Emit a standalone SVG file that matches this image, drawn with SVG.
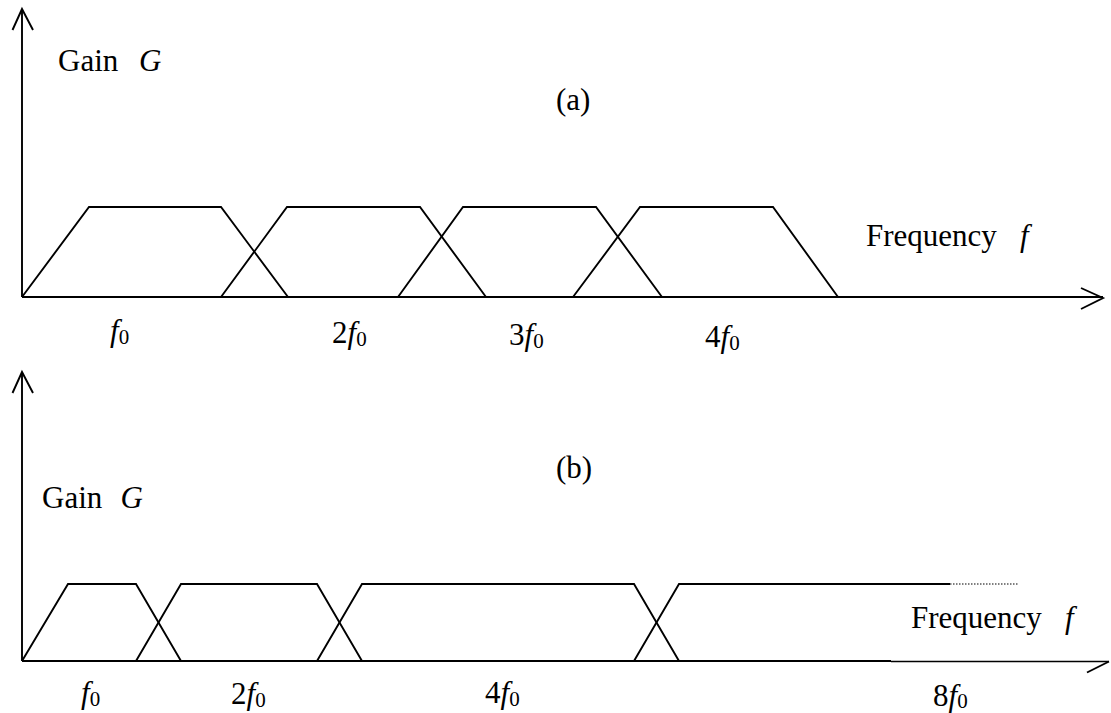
<svg xmlns="http://www.w3.org/2000/svg" width="1111" height="713" viewBox="0 0 1111 713">
<style>
.ln{fill:none;stroke:#000;stroke-width:1.9;stroke-linejoin:miter;stroke-linecap:butt}
.thin{fill:none;stroke:#000;stroke-width:1.3}
.dot{fill:none;stroke:#000;stroke-width:1.2;stroke-dasharray:1.5 1.5}
text{font-family:"Liberation Serif","Times New Roman",serif;font-size:31px;fill:#000}
.it{font-style:italic}
.sub{font-size:21px}
</style>
<rect width="1111" height="713" fill="#fff"/>
<g id="panel-a">
  <g id="axes-a">
    <path class="ln" d="M22,297 V9"/>
    <path class="ln" d="M12.5,30 L22,9 L33,30"/>
    <path class="ln" d="M22,297 H1103"/>
    <path class="ln" d="M1081,288 L1103,298 L1081,309"/>
  </g>
  <g id="bands-a">
    <path class="ln" d="M22,297 L89,207 H221 L288,297"/>
    <path class="ln" d="M221,297 L287,207 H420 L486,297"/>
    <path class="ln" d="M398,297 L463,207 H596 L662,297"/>
    <path class="ln" d="M573,297 L640,207 H773 L838,297"/>
  </g>
  <g id="labels-a">
    <text x="58" y="71">Gain</text>
    <text class="it" x="139" y="71">G</text>
    <text x="556" y="110">(a)</text>
    <text x="866" y="246">Frequency</text>
    <text class="it" x="1020" y="246">f</text>
    <text x="110" y="341"><tspan class="it">f</tspan><tspan class="sub" dy="3">0</tspan></text>
    <text x="332" y="343">2<tspan class="it">f</tspan><tspan class="sub" dy="3">0</tspan></text>
    <text x="509" y="345">3<tspan class="it">f</tspan><tspan class="sub" dy="3">0</tspan></text>
    <text x="705" y="347">4<tspan class="it">f</tspan><tspan class="sub" dy="3">0</tspan></text>
  </g>
</g>
<g id="panel-b">
  <g id="axes-b">
    <path class="ln" d="M22,661 V372"/>
    <path class="ln" d="M12.5,393 L22,372 L33,393"/>
    <path class="ln" d="M22,661 H891"/>
    <path class="thin" d="M891,661.5 H1109"/>
    <path class="ln" d="M1087,672.5 L1109,661.5"/>
  </g>
  <g id="bands-b">
    <path class="ln" d="M22,661 L68,584 H136 L181,661"/>
    <path class="ln" d="M136,661 L181,584 H317 L362,661"/>
    <path class="ln" d="M317,661 L362,584 H634 L679,661"/>
    <path class="ln" d="M634,661 L679,584 H950"/>
    <path class="dot" d="M950,584 H1019"/>
  </g>
  <g id="labels-b">
    <text x="42" y="508">Gain</text>
    <text class="it" x="120.5" y="508">G</text>
    <text x="556" y="478">(b)</text>
    <text x="911" y="628">Frequency</text>
    <text class="it" x="1065" y="628">f</text>
    <text x="81" y="703"><tspan class="it">f</tspan><tspan class="sub" dy="3">0</tspan></text>
    <text x="231" y="704">2<tspan class="it">f</tspan><tspan class="sub" dy="3">0</tspan></text>
    <text x="485" y="703">4<tspan class="it">f</tspan><tspan class="sub" dy="3">0</tspan></text>
    <text x="933" y="706">8<tspan class="it">f</tspan><tspan class="sub" dy="2">0</tspan></text>
  </g>
</g>
</svg>
